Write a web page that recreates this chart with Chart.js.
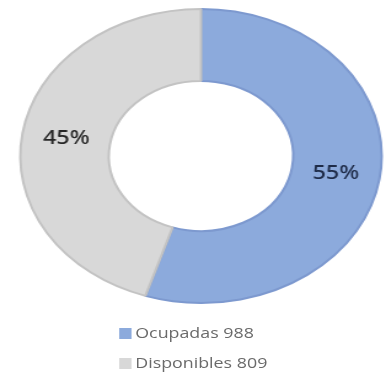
<!DOCTYPE html>
<html>
<head>
<meta charset="utf-8">
<script src="https://cdn.jsdelivr.net/npm/chart.js@4.4.1/dist/chart.umd.min.js"></script>
<style>
  html, body { margin:0; padding:0; background:#fff; width:386px; height:382px; overflow:hidden; }
  #wrap { position:absolute; left:0; top:0; width:314px; height:382px; transform:scaleX(1.2293); transform-origin:0 0; }
  #c { position:absolute; left:0; top:0; }
  #legend { position:absolute; left:97px; top:324px; font-family:"Open Sans", sans-serif; font-size:14.5px; line-height:18px; color:#6a6a6a; }
  .row { display:flex; align-items:center; height:18px; margin-bottom:12px; white-space:nowrap; }
  .box { display:inline-block; width:10px; height:11px; margin-right:3px; }
</style>
</head>
<body>
<div id="wrap">
  <canvas id="c" width="314" height="312"></canvas>
  <div id="legend"></div>
</div>
<script>
const categories = ["Ocupadas", "Disponibles"];
const values = [988, 809];
const colors = ["#8caadc", "#d8d8d8"];
const borderColors = ["#7d99cf", "#c3c3c3"];
const labelColors = ["#1e2b48", "#262626"];

const total = values.reduce((a, b) => a + b, 0);

const pctLabels = {
  id: 'pctLabels',
  afterDatasetsDraw(chart) {
    const ctx = chart.ctx;
    const meta = chart.getDatasetMeta(0);
    ctx.save();
    ctx.font = 'normal 500 19px "Noto Sans", sans-serif';
    ctx.textAlign = 'center';
    ctx.textBaseline = 'middle';
    meta.data.forEach((arc, i) => {
      const p = arc.tooltipPosition();
      ctx.fillStyle = labelColors[i];
      ctx.fillText(Math.round(values[i] / total * 100) + '%', p.x, p.y);
    });
    ctx.restore();
  }
};

new Chart(document.getElementById('c'), {
  type: 'doughnut',
  data: {
    labels: categories,
    datasets: [{
      data: values,
      backgroundColor: colors,
      borderColor: borderColors,
      borderWidth: 2,
      hoverOffset: 0
    }]
  },
  options: {
    responsive: false,
    devicePixelRatio: 1,
    animation: false,
    cutout: '51%',
    layout: { padding: { top: 8, bottom: 8, left: 13, right: 0 } },
    plugins: { legend: { display: false }, tooltip: { enabled: false } }
  },
  plugins: [pctLabels]
});

const lg = document.getElementById('legend');
categories.forEach((c, i) => {
  const row = document.createElement('div');
  row.className = 'row';
  const b = document.createElement('span');
  b.className = 'box';
  b.style.background = colors[i];
  row.appendChild(b);
  row.appendChild(document.createTextNode(c + ' ' + values[i]));
  lg.appendChild(row);
});
</script>
</body>
</html>
